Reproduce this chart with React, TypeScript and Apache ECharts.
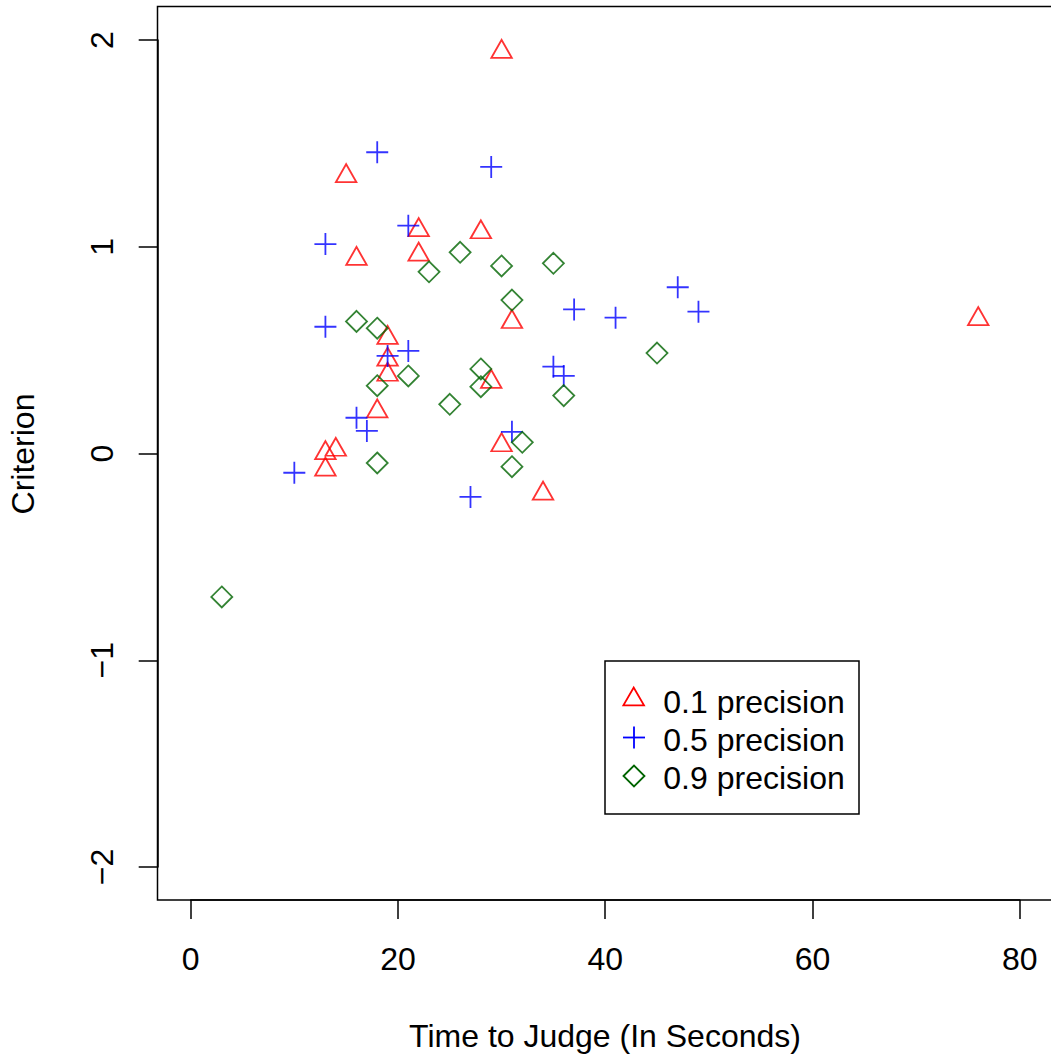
import React, { useEffect, useRef } from "react";
import * as echarts from "echarts";

// ---- data ----
const xTicks = [0, 20, 40, 60, 80];
const yTicks = [-2, -1, 0, 1, 2];
const seriesNames = ["0.1 precision", "0.5 precision", "0.9 precision"];
const xTitle = "Time to Judge (In Seconds)";
const yTitle = "Criterion";

const p01Time = [30, 15, 22, 22, 16, 28, 31, 76, 19, 19, 19, 18, 29, 13, 14, 13, 30, 34];
const p01Criterion = [1.943, 1.342, 1.08, 0.962, 0.941, 1.07, 0.636, 0.65, 0.559, 0.454, 0.381, 0.204, 0.346, 0.002, 0.018, -0.078, 0.04, -0.194];

const p05Time = [18, 29, 21, 13, 13, 19, 21, 16, 17, 10, 31, 27, 35, 36, 37, 41, 47, 49];
const p05Criterion = [1.457, 1.386, 1.102, 1.013, 0.613, 0.472, 0.496, 0.173, 0.109, -0.093, 0.105, -0.21, 0.42, 0.375, 0.697, 0.657, 0.804, 0.686];

const p09Time = [3, 26, 23, 30, 31, 35, 16, 18, 21, 18, 25, 28, 28, 36, 32, 31, 18, 45];
const p09Criterion = [-0.694, 0.973, 0.879, 0.907, 0.742, 0.92, 0.639, 0.606, 0.375, 0.328, 0.238, 0.409, 0.323, 0.28, 0.054, -0.064, -0.046, 0.486];

const colors = ["#FF0000", "#0000FF", "#006400"];

const FONT = "'Liberation Sans', Arial, Helvetica, sans-serif";
const FS = 32;

function pairs(xs: number[], ys: number[]) {
  return xs.map((x, i) => [x, ys[i]]);
}

export default function App() {
  const ref = useRef<HTMLDivElement>(null);
  useEffect(() => {
    if (!ref.current) return;
    const chart = echarts.init(ref.current, null, { renderer: "svg" });
    const lw = 1.5;
    const sw = 1.8;
    const option: any = {
      animation: false,
      backgroundColor: "#ffffff",
      grid: { left: 190.7, right: 31.3, top: 40, bottom: 192, containLabel: false },
      xAxis: {
        type: "value",
        min: xTicks[0],
        max: xTicks[xTicks.length - 1],
        interval: 20,
        offset: 33,
        splitLine: { show: false },
        axisLine: { show: true, onZero: false, lineStyle: { color: "#000", width: lw } },
        axisTick: { show: true, inside: false, length: 19, lineStyle: { color: "#000", width: lw } },
        axisLabel: {
          color: "#000",
          fontSize: FS,
          fontFamily: FONT,
          margin: 59,
          verticalAlign: "middle",
        },
      },
      yAxis: {
        type: "value",
        min: yTicks[0],
        max: yTicks[yTicks.length - 1],
        interval: 1,
        offset: 33,
        splitLine: { show: false },
        axisLine: { show: true, onZero: false, lineStyle: { color: "#000", width: lw } },
        axisTick: { show: true, inside: false, length: 19, lineStyle: { color: "#000", width: lw } },
        axisLabel: {
          color: "#000",
          fontSize: FS,
          fontFamily: FONT,
          rotate: 90,
          margin: 56,
          align: "center",
          verticalAlign: "middle",
          formatter: (v: number) => (v < 0 ? "\u2212" + Math.abs(v) : String(v)),
        },
      },
      series: [
        {
          name: seriesNames[0],
          type: "scatter",
          data: pairs(p01Time, p01Criterion),
          symbol: "triangle",
          symbolSize: [20.5, 18],
          symbolOffset: [0, -3],
          itemStyle: { color: "rgba(0,0,0,0)", borderColor: colors[0], borderWidth: sw },
        },
        {
          name: seriesNames[1],
          type: "scatter",
          data: pairs(p05Time, p05Criterion),
          symbol: "path://M0,11L22,11M11,0L11,22",
          symbolSize: 22,
          itemStyle: { color: "rgba(0,0,0,0)", borderColor: colors[1], borderWidth: sw },
        },
        {
          name: seriesNames[2],
          type: "scatter",
          data: pairs(p09Time, p09Criterion),
          symbol: "diamond",
          symbolSize: 21,
          itemStyle: { color: "rgba(0,0,0,0)", borderColor: colors[2], borderWidth: sw },
        },
      ],
      graphic: [
        {
          type: "rect",
          shape: { x: 157.5, y: 6.5, width: 896, height: 893.5 },
          style: { fill: "none", stroke: "#000", lineWidth: lw },
          silent: true,
        },
        {
          type: "text",
          x: 605,
          y: 1036,
          style: { text: xTitle, fill: "#000", fontSize: FS, fontFamily: FONT, align: "center", verticalAlign: "middle" },
        },
        {
          type: "text",
          x: 22.5,
          y: 454,
          rotation: Math.PI / 2,
          style: { text: yTitle, fill: "#000", fontSize: FS, fontFamily: FONT, align: "center", verticalAlign: "middle" },
        },
        // legend
        {
          type: "rect",
          shape: { x: 605, y: 661, width: 254, height: 153 },
          style: { fill: "#fff", stroke: "#000", lineWidth: lw },
        },
        {
          type: "polygon",
          shape: { points: [[623.4, 705.3], [644, 705.3], [633.7, 687.5]] },
          style: { fill: "none", stroke: colors[0], lineWidth: sw },
        },
        {
          type: "line",
          shape: { x1: 623, y1: 737.5, x2: 645, y2: 737.5 },
          style: { stroke: colors[1], lineWidth: sw },
        },
        {
          type: "line",
          shape: { x1: 634, y1: 726.5, x2: 634, y2: 748.5 },
          style: { stroke: colors[1], lineWidth: sw },
        },
        {
          type: "polygon",
          shape: { points: [[623.5, 776], [634, 765.5], [644.5, 776], [634, 786.5]] },
          style: { fill: "none", stroke: colors[2], lineWidth: sw },
        },
        ...seriesNames.map((n, i) => ({
          type: "text",
          x: 663.3,
          y: [701.7, 740, 777.5][i],
          style: { text: n, fill: "#000", fontSize: FS, fontFamily: FONT, align: "left", verticalAlign: "middle" },
        })),
      ],
    };
    chart.setOption(option);
    return () => chart.dispose();
  }, []);
  return (
    <div
      ref={ref}
      style={{ position: "absolute", left: 0, top: 0, width: 1051, height: 1059, background: "#fff" }}
    />
  );
}
